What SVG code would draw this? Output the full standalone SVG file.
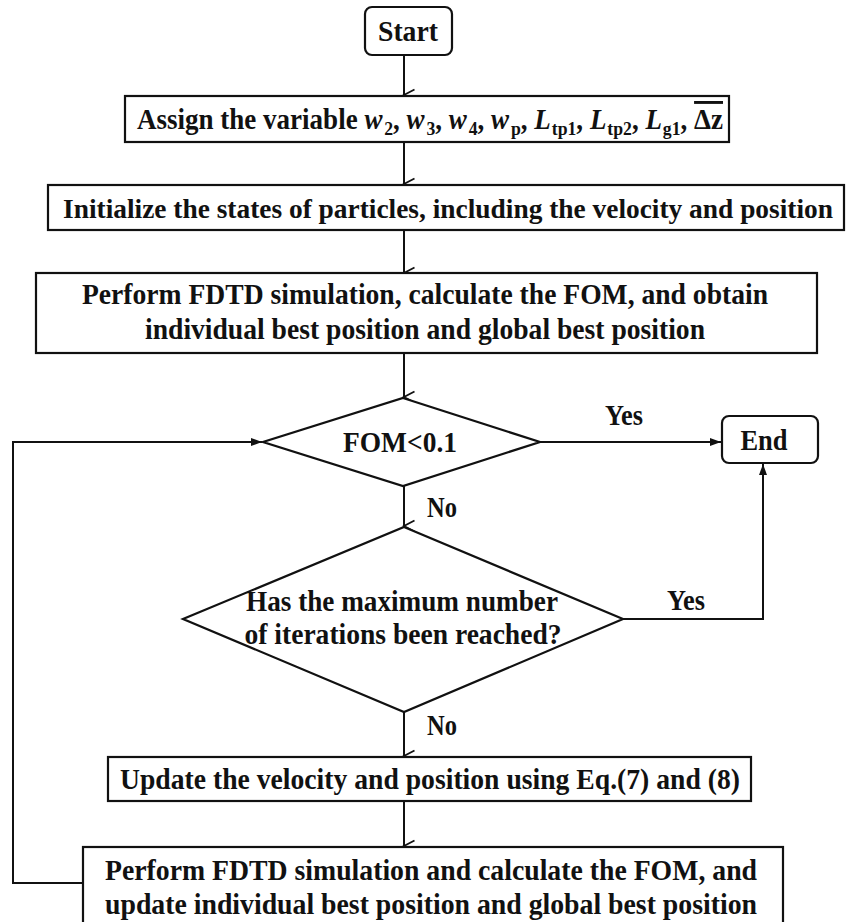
<svg xmlns="http://www.w3.org/2000/svg" width="847" height="922" viewBox="0 0 847 922">
<style>
.box{fill:#fff;stroke:#111;stroke-width:2.2}
.ln{fill:none;stroke:#111;stroke-width:2}
.t{font-family:"Liberation Serif","Times New Roman",serif;font-weight:bold;font-size:29px;fill:#111;text-anchor:middle}
.i{font-style:italic}
.s{font-size:19px}
</style>
<defs>
<marker id="v" markerWidth="14" markerHeight="14" refX="7" refY="12" orient="auto" markerUnits="userSpaceOnUse" viewBox="0 0 14 14">
<path d="M1.5,1.5 L7,12 L12.5,1.5" fill="none" stroke="#111" stroke-width="1.8"/>
</marker>
<marker id="f" markerWidth="12" markerHeight="10" refX="11" refY="5" orient="auto" markerUnits="userSpaceOnUse" viewBox="0 0 12 10">
<path d="M0,1 L11,5 L0,9 Z" fill="#111"/>
</marker>
</defs>
<g id="connectors">
<line class="ln" x1="404" y1="55" x2="404" y2="95" marker-end="url(#v)"/>
<line class="ln" x1="404" y1="142" x2="404" y2="184" marker-end="url(#v)"/>
<line class="ln" x1="404" y1="230" x2="404" y2="273" marker-end="url(#v)"/>
<line class="ln" x1="404" y1="353" x2="404" y2="397" marker-end="url(#v)"/>
<line class="ln" x1="540" y1="442" x2="721" y2="442" marker-end="url(#f)"/>
<line class="ln" x1="404" y1="486" x2="404" y2="526" marker-end="url(#v)"/>
<polyline class="ln" points="623,619 763,619 763,464" marker-end="url(#f)"/>
<line class="ln" x1="404" y1="712" x2="404" y2="756" marker-end="url(#v)"/>
<line class="ln" x1="404" y1="801" x2="404" y2="846" marker-end="url(#v)"/>
<polyline class="ln" points="83,883 13,883 13,442 262,442" marker-end="url(#f)"/>
<text class="t" x="624" y="425" textLength="38" lengthAdjust="spacingAndGlyphs">Yes</text>
<text class="t" x="442" y="517" textLength="30" lengthAdjust="spacingAndGlyphs">No</text>
<text class="t" x="686" y="610" textLength="38" lengthAdjust="spacingAndGlyphs">Yes</text>
<text class="t" x="442" y="735" textLength="30" lengthAdjust="spacingAndGlyphs">No</text>
</g>
<g id="start">
<rect class="box" x="365" y="7" width="87" height="48" rx="7"/>
<text class="t" x="408" y="41" textLength="60" lengthAdjust="spacingAndGlyphs">Start</text>
</g>
<g id="assign">
<rect class="box" x="125" y="96" width="604" height="46"/>
<text class="t" x="430" y="129" textLength="586" lengthAdjust="spacingAndGlyphs">Assign the variable <tspan class="i">w</tspan><tspan class="s" dx="2" dy="6">2</tspan><tspan dy="-6">, </tspan><tspan class="i">w</tspan><tspan class="s" dx="2" dy="6">3</tspan><tspan dy="-6">, </tspan><tspan class="i">w</tspan><tspan class="s" dx="2" dy="6">4</tspan><tspan dy="-6">, </tspan><tspan class="i">w</tspan><tspan class="s" dx="2" dy="6">p</tspan><tspan dy="-6">, </tspan><tspan class="i">L</tspan><tspan class="s" dx="1" dy="6">tp1</tspan><tspan dy="-6">, </tspan><tspan class="i">L</tspan><tspan class="s" dx="1" dy="6">tp2</tspan><tspan dy="-6">, </tspan><tspan class="i">L</tspan><tspan class="s" dx="1" dy="6">g1</tspan><tspan dy="-6">, </tspan><tspan style="text-decoration:overline">Δz</tspan></text>
</g>
<g id="init">
<rect class="box" x="48" y="185" width="796" height="45"/>
<text class="t" x="448" y="218" style="font-size:27px" textLength="770" lengthAdjust="spacingAndGlyphs">Initialize the states of particles, including the velocity and position</text>
</g>
<g id="perform1">
<rect class="box" x="36" y="273" width="781" height="80"/>
<text class="t" x="425" y="304" textLength="686" lengthAdjust="spacingAndGlyphs">Perform FDTD simulation, calculate the FOM, and obtain</text>
<text class="t" x="425" y="339" textLength="560" lengthAdjust="spacingAndGlyphs">individual best position and global best position</text>
</g>
<g id="fom">
<polygon class="box" points="403,398 540,442 403,486 263,442"/>
<text class="t" x="400" y="452" textLength="114" lengthAdjust="spacingAndGlyphs">FOM&lt;0.1</text>
</g>
<g id="end">
<rect class="box" x="722" y="416" width="96" height="47" rx="7"/>
<text class="t" x="764" y="450" textLength="47" lengthAdjust="spacingAndGlyphs">End</text>
</g>
<g id="maxiter">
<polygon class="box" points="404,527 623,619 404,712 183,619"/>
<text class="t" x="402" y="611" textLength="312" lengthAdjust="spacingAndGlyphs">Has the maximum number</text>
<text class="t" x="403" y="644" textLength="317" lengthAdjust="spacingAndGlyphs">of iterations been reached?</text>
</g>
<g id="update">
<rect class="box" x="108" y="757" width="643" height="44"/>
<text class="t" x="430" y="789" textLength="620" lengthAdjust="spacingAndGlyphs">Update the velocity and position using Eq.(7) and (8)</text>
</g>
<g id="perform2">
<rect class="box" x="83" y="847" width="700" height="80"/>
<text class="t" x="431" y="880" textLength="652" lengthAdjust="spacingAndGlyphs">Perform FDTD simulation and calculate the FOM, and</text>
<text class="t" x="431" y="914" textLength="652" lengthAdjust="spacingAndGlyphs">update individual best position and global best position</text>
</g>
</svg>
